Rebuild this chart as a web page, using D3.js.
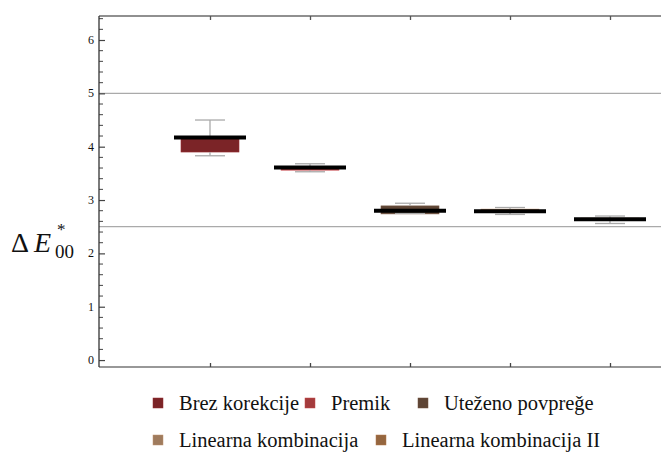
<!DOCTYPE html>
<html><head><meta charset="utf-8">
<script src="https://cdn.jsdelivr.net/npm/d3@7"></script>
<style>body{margin:0;background:#fff}svg{display:block}
text{font-family:"Liberation Serif","Times New Roman","DejaVu Serif",serif}</style>
</head><body>
<script>
const categories = ["Brez korekcije","Premik","Uteženo povpreǧe","Linearna kombinacija","Linearna kombinacija II"];
const whiskerLow  = [3.83, 3.53, 2.75, 2.73, 2.56];
const q1          = [3.90, 3.56, 2.74, 2.77, 2.62];
const median      = [4.17, 3.61, 2.80, 2.79, 2.64];
const q3          = [4.17, 3.62, 2.89, 2.83, 2.66];
const whiskerHigh = [4.50, 3.68, 2.94, 2.86, 2.70];
const colors = ["#7b2427","#a43b3d","#5e4535","#9f7b5d","#95663f"];
const yTicks = [0,1,2,3,4,5,6];
const refLines = [5, 2.5];

const W=661,H=453;
const m={left:99,top:16,right:730,bottom:367};
const svg=d3.select("body").append("svg").attr("width",W).attr("height",H);
const y=d3.scaleLinear().domain([-0.13,6.45]).range([m.bottom,m.top]);
const x=d3.scalePoint().domain(categories).range([m.left+111,m.left+511]);
const boxW=58, medW=72, capW=30;

// reference lines
svg.selectAll(".ref").data(refLines).join("line")
  .attr("x1",m.left).attr("x2",W+10).attr("y1",d=>y(d)).attr("y2",d=>y(d))
  .attr("stroke","#aaa").attr("stroke-width",1.3);

// frame
svg.append("line").attr("x1",m.left).attr("x2",W+10).attr("y1",m.top).attr("y2",m.top).attr("stroke","#222").attr("stroke-width",1.2);
svg.append("line").attr("x1",m.left).attr("x2",W+10).attr("y1",m.bottom).attr("y2",m.bottom).attr("stroke","#333").attr("stroke-width",1.2);

// left axis
const yAxis=d3.axisRight(y).tickValues(yTicks).tickSize(6).tickFormat("");
const ga=svg.append("g").attr("transform",`translate(${m.left},0)`).call(yAxis);
ga.select(".domain").remove();
ga.selectAll("line").attr("stroke","#444").attr("stroke-width",1.2);
const minor=d3.range(0,6.5,0.2).filter(v=>Math.abs(v-Math.round(v))>1e-6);
svg.selectAll(".minor").data(minor).join("line")
  .attr("x1",m.left).attr("x2",m.left+4).attr("y1",d=>y(d)).attr("y2",d=>y(d))
  .attr("stroke","#444").attr("stroke-width",1);
svg.append("line").attr("x1",m.left).attr("x2",m.left).attr("y1",m.top).attr("y2",m.bottom).attr("stroke","#333").attr("stroke-width",1.3);
svg.selectAll(".ylab").data(yTicks).join("text")
  .attr("x",m.left-5).attr("y",d=>y(d)+4).attr("text-anchor","end")
  .attr("font-size",12).attr("fill","#111").text(d=>d);

// x ticks top and bottom
const topAxis=svg.append("g").attr("transform",`translate(0,${m.top})`).call(d3.axisBottom(x).tickSize(4).tickFormat(""));
topAxis.select(".domain").remove();
topAxis.selectAll("line").attr("stroke","#555").attr("stroke-width",1.3);
const botAxis=svg.append("g").attr("transform",`translate(0,${m.bottom})`).call(d3.axisTop(x).tickSize(4).tickFormat(""));
botAxis.select(".domain").remove();
botAxis.selectAll("line").attr("stroke","#444").attr("stroke-width",1.3);

// boxes
const idx=d3.range(categories.length);
const g=svg.append("g");
g.selectAll(".box").data(idx).join("rect")
  .attr("x",i=>x(categories[i])-boxW/2).attr("width",boxW)
  .attr("y",i=>y(q3[i])).attr("height",i=>Math.max(1,y(q1[i])-y(q3[i])))
  .attr("fill",i=>colors[i]).attr("stroke",i=>d3.color(colors[i]).brighter(0.6)).attr("stroke-width",0.6);
g.selectAll(".wu").data(idx).join("line")
  .attr("x1",i=>x(categories[i])).attr("x2",i=>x(categories[i]))
  .attr("y1",i=>y(whiskerHigh[i])).attr("y2",i=>y(Math.max(q3[i],median[i])))
  .attr("stroke","#aaa").attr("stroke-width",1.3);
g.selectAll(".wl").data(idx).join("line")
  .attr("x1",i=>x(categories[i])).attr("x2",i=>x(categories[i]))
  .attr("y1",i=>y(whiskerLow[i])).attr("y2",i=>y(q1[i]))
  .attr("stroke","#aaa").attr("stroke-width",1.3);
g.selectAll(".cu").data(idx).join("line")
  .attr("x1",i=>x(categories[i])-capW/2).attr("x2",i=>x(categories[i])+capW/2)
  .attr("y1",i=>y(whiskerHigh[i])).attr("y2",i=>y(whiskerHigh[i]))
  .attr("stroke","#aaa").attr("stroke-width",1.3);
g.selectAll(".cl").data(idx).join("line")
  .attr("x1",i=>x(categories[i])-capW/2).attr("x2",i=>x(categories[i])+capW/2)
  .attr("y1",i=>y(whiskerLow[i])).attr("y2",i=>y(whiskerLow[i]))
  .attr("stroke","#aaa").attr("stroke-width",1.3);
g.selectAll(".med").data(idx).join("line")
  .attr("x1",i=>x(categories[i])-medW/2).attr("x2",i=>x(categories[i])+medW/2)
  .attr("y1",i=>y(median[i])).attr("y2",i=>y(median[i]))
  .attr("stroke","#000").attr("stroke-width",4);

// y label
const lab=svg.append("g").attr("fill","#111");
lab.append("text").attr("x",11).attr("y",252).attr("font-size",28).text("Δ");
lab.append("text").attr("x",34).attr("y",252).attr("font-size",28).attr("font-style","italic").text("E");
lab.append("text").attr("x",57).attr("y",235).attr("font-size",17).text("*");
lab.append("text").attr("x",55).attr("y",258).attr("font-size",19).text("00");

// legend
const rows=[[0,1,2],[3,4]];
const rowY=[403,440];
const legX=[[153,305,418],[153,376]];
rows.forEach((r,ri)=>{
  r.forEach((ci,k)=>{
    svg.append("rect").attr("x",legX[ri][k]).attr("y",rowY[ri]-5).attr("width",10).attr("height",10)
      .attr("fill",colors[ci]).attr("stroke",d3.color(colors[ci]).brighter(0.5)).attr("stroke-width",0.5);
    svg.append("text").attr("x",legX[ri][k]+26).attr("y",rowY[ri]+6.5)
      .attr("font-size",20.5).attr("fill","#111").text(categories[ci]);
  });
});
</script>
</body></html>
